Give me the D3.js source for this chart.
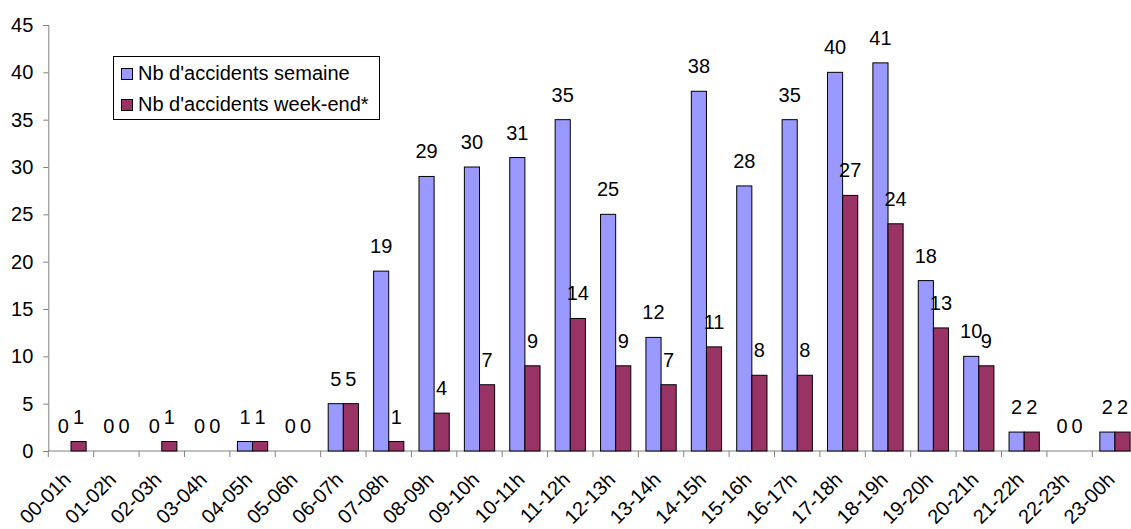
<!DOCTYPE html>
<html>
<head>
<meta charset="utf-8">
<script src="https://cdn.jsdelivr.net/npm/d3@7"></script>
<style>
  html, body { margin: 0; padding: 0; background: #fff; }
  svg { display: block; font-family: "Liberation Sans", Arial, sans-serif; }
</style>
</head>
<body>
<svg id="chart" width="1131" height="529"></svg>
<script>
// Hourly slots
const hours = ["00-01h","01-02h","02-03h","03-04h","04-05h","05-06h","06-07h","07-08h",
  "08-09h","09-10h","10-11h","11-12h","12-13h","13-14h","14-15h","15-16h","16-17h",
  "17-18h","18-19h","19-20h","20-21h","21-22h","22-23h","23-00h"];

// Accidents on weekdays
const semaine = [0,0,0,0,1,0,5,19,29,30,31,35,25,12,38,28,35,40,41,18,10,2,0,2];
// Accidents at the weekend
const weekend = [1,0,1,0,1,0,5,1,4,7,9,14,9,7,11,8,8,27,24,13,9,2,0,2];

const yTicks = [0,5,10,15,20,25,30,35,40,45];
const seriesNames = ["Nb d'accidents semaine", "Nb d'accidents week-end*"];
const colors = ["#9999FF", "#993366"];

const FS = 20;
const svg = d3.select("#chart");
const x0 = 48.3, bandW = 45.39;
const x = d3.scaleBand().domain(hours).range([x0, x0 + bandW * hours.length]).paddingInner(0).paddingOuter(0);
const y = d3.scaleLinear().domain([0, 45]).range([451, 25]);

const sub = d3.scaleBand().domain([0, 1]).range([0, x.bandwidth()]).paddingInner(0).paddingOuter(1 / 2);

// Y axis
const yAxis = d3.axisLeft(y).tickValues(yTicks).tickSize(5).tickPadding(10);
const gy = svg.append("g").attr("transform", `translate(${x0},0)`).call(yAxis);
gy.select(".domain").attr("stroke", "#808080");
gy.selectAll(".tick line").attr("stroke", "#808080");
gy.selectAll(".tick text").attr("font-size", FS).attr("fill", "#000")
  .attr("font-family", "'Liberation Sans', Arial, sans-serif");

// X axis with ticks at category boundaries
const gx = svg.append("g").attr("transform", `translate(0,${y(0)})`);
gx.append("line").attr("x1", x0).attr("x2", x0 + bandW * hours.length)
  .attr("stroke", "#808080");
gx.selectAll("line.tk").data(d3.range(hours.length + 1)).join("line")
  .attr("class", "tk")
  .attr("x1", i => x0 + i * bandW).attr("x2", i => x0 + i * bandW)
  .attr("y1", 0).attr("y2", 6).attr("stroke", "#808080");
gx.selectAll("text").data(hours).join("text")
  .attr("font-size", FS)
  .attr("text-anchor", "end")
  .attr("transform", d => `translate(${x(d) + x.bandwidth() / 2 + 1},${30}) rotate(-45)`)
  .text(d => d);

// Bars
const data = hours.map((h, i) => ({ h, vals: [semaine[i], weekend[i]] }));
const groups = svg.append("g").selectAll("g").data(data).join("g")
  .attr("transform", d => `translate(${x(d.h)},0)`);

groups.selectAll("rect").data(d => d.vals.map((v, k) => ({ v, k })).filter(e => e.v > 0)).join("rect")
  .attr("x", e => sub(e.k))
  .attr("width", sub.bandwidth())
  .attr("y", e => y(e.v))
  .attr("height", e => y(0) - y(e.v))
  .attr("fill", e => colors[e.k])
  .attr("stroke", "#000")
  .attr("stroke-width", 1);

// Value labels above each bar
svg.append("g").selectAll("g").data(data).join("g")
  .attr("transform", d => `translate(${x(d.h)},0)`)
  .selectAll("text").data(d => d.vals.map((v, k) => ({ v, k }))).join("text")
  .attr("x", e => sub(e.k) + sub.bandwidth() / 2)
  .attr("y", e => y(e.v) - 18)
  .attr("text-anchor", "middle")
  .attr("font-size", FS)
  .attr("fill", "#000")
  .text(e => e.v);

// Legend
const lg = svg.append("g");
lg.append("rect").attr("x", 113.5).attr("y", 56.5).attr("width", 266).attr("height", 63)
  .attr("fill", "#fff").attr("stroke", "#000");
seriesNames.forEach((name, k) => {
  const top = 68.5 + k * 31;
  lg.append("rect").attr("x", 121.5).attr("y", top).attr("width", 11).attr("height", 11)
    .attr("fill", colors[k]).attr("stroke", "#000");
  lg.append("text").attr("x", 138).attr("y", top + 11.5).attr("font-size", FS).text(name);
});
</script>
</body>
</html>
